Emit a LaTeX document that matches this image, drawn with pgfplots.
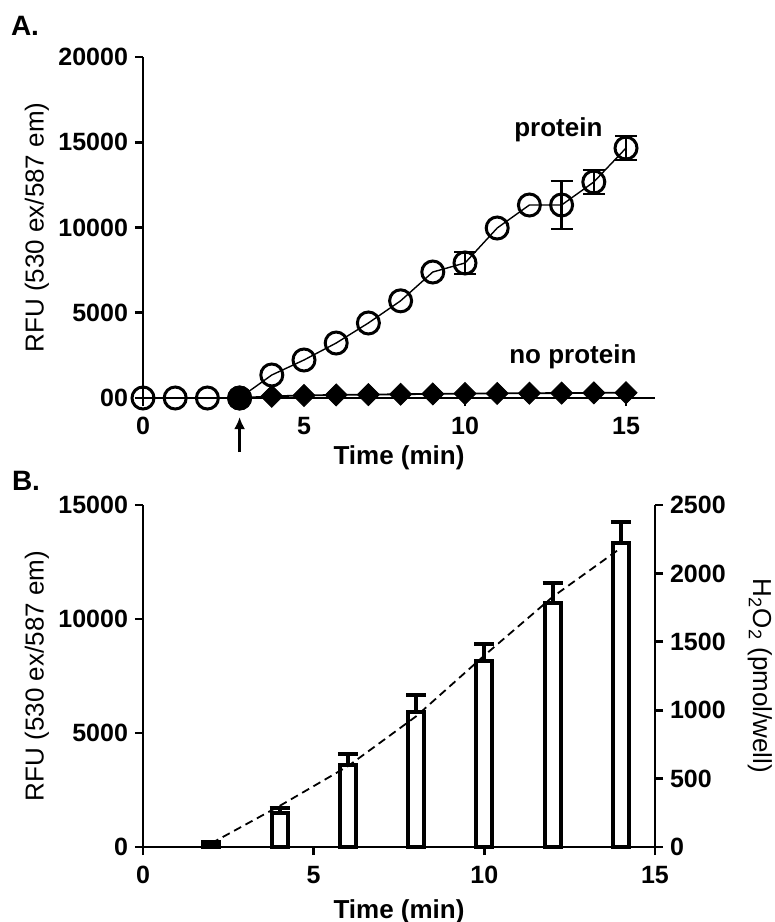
\documentclass[border=0pt]{standalone}
\usepackage{fontspec}
\setmainfont{Liberation Sans}
\usepackage{pgfplots}
\pgfplotsset{compat=1.18}
\usetikzlibrary{arrows.meta}

\pgfplotsset{
  common/.style={
    scale only axis,
    axis lines*=left,
    axis line style={line width=1.4pt},
    tick style={line width=1.4pt, black},
    tick align=outside,
    major tick length=4pt,
    minor tick num=0,
    scaled ticks=false,
    ticklabel style={font=\fontsize{12.5}{14}\selectfont\bfseries},
    xticklabel style={yshift=-2pt},
    /pgf/number format/assume math mode=true,
    /pgf/number format/set thousands separator={},
    label style={font=\fontsize{13}{15}\selectfont},
    clip=false,
  },
}

\begin{document}
\begin{tikzpicture}
\path[use as bounding box] (0,0) rectangle (387.5pt,-461pt);

% ---- panel A
\node[font=\fontsize{14}{16}\selectfont\bfseries] at (12.5pt,-13pt) {A.};
\begin{axis}[common,
  at={(71.5pt,-199pt)}, anchor=south west,
  width=256pt, height=170.5pt,
  xmin=0, xmax=15.9, ymin=0, ymax=20000,
  xtick={0,5,10,15},
  ytick={0,5000,10000,15000,20000},
  yticklabels={00,5000,10000,15000,20000},
  xlabel={\bfseries Time (min)},
  ylabel={RFU (530 ex/587 em)},
  xlabel style={at={(axis description cs:0.5,-0.176)}, anchor=center},
  ylabel style={at={(axis description cs:-0.207,0.5)}, anchor=center},
]
% protein
\addplot[black, line width=0.7pt, mark=o, mark size=5.5pt,
  mark options={line width=1.5pt},
  error bars/.cd, y dir=both, y explicit,
  error bar style={line width=1.2pt},
  error mark options={rotate=90, mark size=5.5pt, line width=1.2pt}]
  coordinates {
  (0,0) (1,0) (2,0) (3,0) (4,1350) (5,2230) (6,3225) (7,4400) (8,5700)
  (9,7390) (10,7920) +- (0,650) (11,9970) (12,11320) (13,11320) +- (0,1400)
  (14,12670) +- (0,700) (15,14660) +- (0,700)};
% no protein
\addplot[black, line width=0.9pt] coordinates {
  (3,0) (4,100) (5,150) (6,180) (7,200) (8,220) (9,240) (10,260)
  (11,270) (12,280) (13,290) (14,300) (15,310)};
\addplot[only marks, mark=square*, mark size=3.9pt, mark options={rotate=45}]
  coordinates {
  (4,100) (5,150) (6,180) (7,200) (8,220) (9,240) (10,260)
  (11,270) (12,280) (13,290) (14,300) (15,310)};
\addplot[only marks, mark=*, mark size=6pt] coordinates {(3,0)};
\node[font=\fontsize{13}{15}\selectfont\bfseries] at (axis cs:12.9,15720) {protein};
\node[font=\fontsize{13}{15}\selectfont\bfseries] at (axis cs:13.35,2400) {no protein};
\draw[line width=1.3pt, -{Latex[length=6pt,width=5.5pt]}] (axis cs:3,-3170) -- (axis cs:3,-1115);
\end{axis}

% ---- panel B
\node[font=\fontsize{14}{16}\selectfont\bfseries] at (13pt,-240.5pt) {B.};
\begin{axis}[common,
  at={(71.5pt,-423.5pt)}, anchor=south west,
  width=256pt, height=171pt,
  xmin=0, xmax=15, ymin=0, ymax=15000,
  xtick={0,5,10,15},
  ytick={0,5000,10000,15000},
  xlabel={\bfseries Time (min)},
  ylabel={RFU (530 ex/587 em)},
  xlabel style={at={(axis description cs:0.5,-0.19)}, anchor=center},
  ylabel style={at={(axis description cs:-0.207,0.5)}, anchor=center},
]
\addplot[ybar, bar width=8pt, fill=white, draw=black, line width=2pt,
  error bars/.cd, y dir=plus, y explicit,
  error bar style={line width=2pt},
  error mark options={rotate=90, mark size=5pt, line width=2pt}]
  coordinates {
  (2,150) +- (0,60) (4,1490) +- (0,220) (6,3600) +- (0,480)
  (8,5920) +- (0,750) (10,8160) +- (0,740) (12,10700) +- (0,880)
  (14,13330) +- (0,920)};
\end{axis}
\begin{axis}[common,
  at={(71.5pt,-423.5pt)}, anchor=south west,
  width=256pt, height=171pt,
  axis x line=none, axis y line*=right,
  xmin=0, xmax=15, ymin=0, ymax=2500,
  ytick={0,500,1000,1500,2000,2500},
  ylabel={H\textsubscript{2}O\textsubscript{2} (pmol/well)},
  ylabel style={at={(axis description cs:1.205,0.5)}, anchor=center, rotate=180},
]
\addplot[black, line width=0.9pt, dash pattern=on 4pt off 2.5pt] coordinates {
  (2,27) (4,300) (6,590) (8,955) (10,1400) (12,1828) (14,2186)};
\end{axis}
\end{tikzpicture}
\end{document}
